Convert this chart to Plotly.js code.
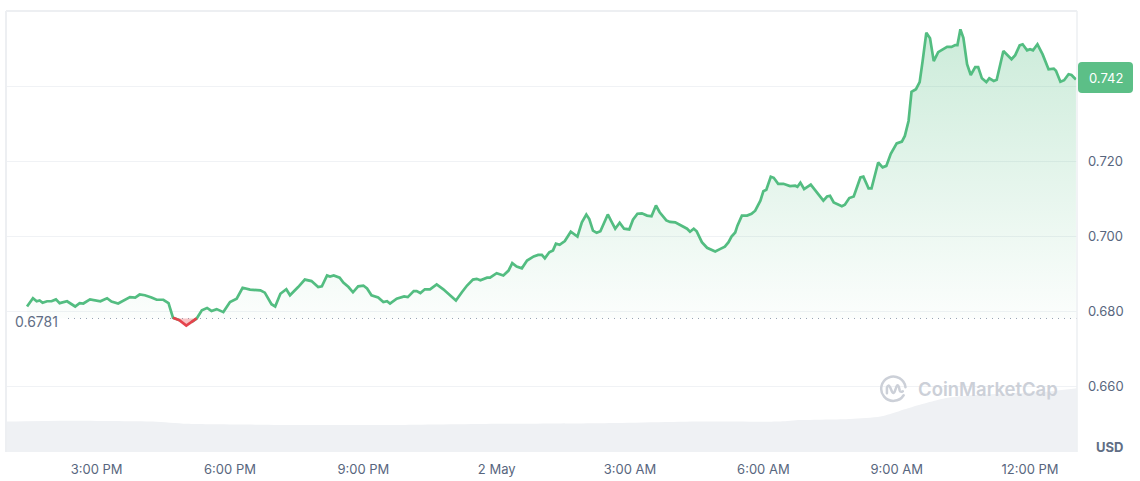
<!DOCTYPE html>
<html>
<head>
<meta charset="utf-8">
<script src="https://cdn.plot.ly/plotly-3.0.1.min.js"></script>
<style>
  html, body { margin: 0; padding: 0; background: #ffffff; }
  #chart { width: 1140px; height: 481px; }
</style>
</head>
<body>
<div id="chart"></div>
<script>
// ---------------- DATA ----------------
// Opening price of the 24h window (reference line)
const openPrice = 0.6781;
const lastPrice = 0.742;

// Sample times, in minutes since 2024-05-01 00:00
const priceMinutes = [
  806, 814, 819, 823, 827, 833, 839, 845, 850, 860,
  871, 877, 882, 891, 905, 914, 920, 929, 945, 952,
  958, 965, 974, 981, 990, 997, 1003, 1012, 1021, 1028,
  1035, 1042, 1049, 1055, 1062, 1071, 1080, 1089, 1097, 1107,
  1121, 1127, 1136, 1141, 1148, 1156, 1161, 1172, 1181, 1190,
  1199, 1204, 1211, 1215, 1220, 1228, 1233, 1240, 1246, 1253,
  1260, 1265, 1271, 1280, 1287, 1292, 1296, 1305, 1315, 1320,
  1328, 1332, 1337, 1343, 1350, 1359, 1368, 1377, 1385, 1393,
  1400, 1408, 1413, 1418, 1427, 1431, 1440, 1449, 1456, 1461,
  1467, 1474, 1481, 1490, 1496, 1501, 1505, 1511, 1516, 1520,
  1525, 1532, 1540, 1549, 1555, 1561, 1565, 1570, 1575, 1580,
  1585, 1590, 1595, 1600, 1606, 1612, 1619, 1624, 1630, 1636,
  1643, 1649, 1655, 1660, 1669, 1674, 1681, 1690, 1697, 1701,
  1706, 1710, 1717, 1724, 1729, 1735, 1742, 1748, 1753, 1757,
  1762, 1765, 1771, 1778, 1784, 1789, 1796, 1800, 1804, 1810,
  1814, 1820, 1827, 1836, 1843, 1846, 1850, 1855, 1864, 1872,
  1881, 1886, 1890, 1895, 1906, 1910, 1916, 1922, 1925, 1931,
  1935, 1942, 1946, 1951, 1955, 1961, 1966, 1972, 1980, 1987,
  1991, 1996, 2000, 2006, 2011, 2015, 2020, 2025, 2030, 2036,
  2043, 2048, 2054, 2059, 2062, 2066, 2070, 2075, 2080, 2086,
  2090, 2095, 2101, 2105, 2111, 2115, 2124, 2135, 2140, 2146,
  2150, 2156, 2160, 2164, 2170, 2177, 2185, 2192, 2195, 2201,
  2206, 2212, 2216, 2222
];

// Price in USD
const priceValues = [
  0.6813, 0.6835, 0.6827, 0.6829, 0.6823, 0.6827, 0.6827, 0.6832, 0.6822, 0.6827,
  0.6813, 0.6822, 0.6821, 0.6832, 0.6827, 0.6835, 0.6826, 0.6821, 0.6838, 0.6837,
  0.6845, 0.6843, 0.6837, 0.6831, 0.6831, 0.6822, 0.6783, 0.6776, 0.6762, 0.6771,
  0.6781, 0.6803, 0.6809, 0.6801, 0.6806, 0.6798, 0.6825, 0.6834, 0.6863, 0.6858,
  0.6856, 0.6850, 0.6819, 0.6813, 0.6847, 0.6859, 0.6843, 0.6865, 0.6885, 0.6881,
  0.6865, 0.6867, 0.6896, 0.6893, 0.6896, 0.6890, 0.6877, 0.6865, 0.6851, 0.6867,
  0.6869, 0.6861, 0.6843, 0.6837, 0.6825, 0.6827, 0.6821, 0.6834, 0.6840, 0.6838,
  0.6854, 0.6854, 0.6849, 0.6859, 0.6859, 0.6872, 0.6859, 0.6843, 0.6829, 0.6851,
  0.6869, 0.6885, 0.6887, 0.6883, 0.6890, 0.6890, 0.6902, 0.6896, 0.6909, 0.6929,
  0.6920, 0.6915, 0.6936, 0.6947, 0.6951, 0.6951, 0.6942, 0.6958, 0.6963, 0.6981,
  0.6978, 0.6988, 0.7013, 0.7000, 0.7038, 0.7059, 0.7047, 0.7016, 0.7010, 0.7014,
  0.7038, 0.7059, 0.7040, 0.7021, 0.7037, 0.7021, 0.7019, 0.7045, 0.7061, 0.7062,
  0.7056, 0.7054, 0.7083, 0.7065, 0.7043, 0.7039, 0.7038, 0.7029, 0.7021, 0.7013,
  0.7021, 0.7014, 0.6985, 0.6970, 0.6965, 0.6960, 0.6967, 0.6973, 0.6985, 0.7000,
  0.7011, 0.7029, 0.7056, 0.7056, 0.7061, 0.7069, 0.7096, 0.7121, 0.7125, 0.7160,
  0.7157, 0.7141, 0.7141, 0.7135, 0.7136, 0.7133, 0.7144, 0.7127, 0.7139, 0.7118,
  0.7096, 0.7107, 0.7109, 0.7091, 0.7081, 0.7085, 0.7103, 0.7107, 0.7123, 0.7158,
  0.7160, 0.7129, 0.7129, 0.7171, 0.7198, 0.7185, 0.7189, 0.7221, 0.7249, 0.7254,
  0.7269, 0.7309, 0.7387, 0.7394, 0.7413, 0.7469, 0.7545, 0.7530, 0.7469, 0.7493,
  0.7501, 0.7507, 0.7507, 0.7512, 0.7512, 0.7554, 0.7531, 0.7461, 0.7432, 0.7453,
  0.7453, 0.7423, 0.7413, 0.7423, 0.7416, 0.7419, 0.7496, 0.7474, 0.7485, 0.7511,
  0.7514, 0.7498, 0.7501, 0.7498, 0.7514, 0.7487, 0.7447, 0.7449, 0.7443, 0.7414,
  0.7418, 0.7434, 0.7432, 0.7420
];

// Trading volume (billions USD, estimated) – minutes since 2024-05-01 00:00
const volumeMinutes = [778, 850, 976, 1022, 1175, 1310, 1445, 1580, 1715, 1823, 1850, 1918, 1958, 2002, 2047, 2092, 2182, 2223];
const volumeValues  = [1.05, 1.08, 1.05, 0.97, 0.93, 0.93, 0.97, 0.99, 1.05, 1.05, 1.10, 1.14, 1.22, 1.56, 1.86, 1.97, 2.08, 2.20];

// Axis ticks
const xTickTimes  = ['2024-05-01 15:00', '2024-05-01 18:00', '2024-05-01 21:00', '2024-05-02 00:00',
                     '2024-05-02 03:00', '2024-05-02 06:00', '2024-05-02 09:00', '2024-05-02 12:00'];
const xTickLabels = ['3:00 PM', '6:00 PM', '9:00 PM', '2 May', '3:00 AM', '6:00 AM', '9:00 AM', '12:00 PM'];
const yTickValues = [0.66, 0.68, 0.70, 0.72, 0.74];
const yTickLabels = ['0.660', '0.680', '0.700', '0.720', ''];

// ---------------- helpers ----------------
function pad(n) { return (n < 10 ? '0' : '') + n; }
function minToDate(m) {
  const day = 1 + Math.floor(m / 1440);
  const r = m % 1440;
  return '2024-05-0' + day + ' ' + pad(Math.floor(r / 60)) + ':' + pad(r % 60);
}
const times = priceMinutes.map(minToDate);
const volTimes = volumeMinutes.map(minToDate);

const GREEN = '#53bd81';
const RED = '#e5434c';

// split line into above / below the open price
const greenY = priceValues.map((v, i) => {
  const p = priceValues[i - 1], n = priceValues[i + 1];
  return (v >= openPrice || (p !== undefined && p >= openPrice) || (n !== undefined && n >= openPrice)) ? v : null;
});
const redY = priceValues.map((v, i) => {
  const p = priceValues[i - 1], n = priceValues[i + 1];
  return (v < openPrice || (p !== undefined && p < openPrice) || (n !== undefined && n < openPrice)) ? v : null;
});
const baseY = priceValues.map(() => openPrice);
const aboveY = priceValues.map(v => Math.max(v, openPrice));
const belowY = priceValues.map(v => Math.min(v, openPrice));

// layout geometry (pixels)
const M = { l: 6, r: 63, t: 11, b: 29 };
const W = 1140, H = 481;
const PW = W - M.l - M.r, PH = H - M.t - M.b;
const px = x => (x - M.l) / PW;
const py = y => (H - M.b - y) / PH;

const yRange = [0.6424, 0.7603];
const xRange = ['2024-05-01 12:57:36', '2024-05-02 13:03:24'];

const traces = [
  { // volume
    x: volTimes, y: volumeValues, yaxis: 'y2', type: 'scatter', mode: 'lines',
    line: { width: 0, shape: 'spline', smoothing: 0.6 }, fill: 'tozeroy', fillcolor: '#eff1f4',
    hoverinfo: 'skip', showlegend: false
  },
  { x: times, y: baseY, mode: 'lines', line: { width: 0 }, hoverinfo: 'skip', showlegend: false },
  {
    x: times, y: aboveY, mode: 'lines', line: { width: 0 }, fill: 'tonexty',
    fillgradient: {
      type: 'vertical', start: openPrice, stop: 0.756,
      colorscale: [[0, 'rgba(83,189,129,0.02)'], [1, 'rgba(83,189,129,0.30)']]
    },
    hoverinfo: 'skip', showlegend: false
  },
  { x: times, y: baseY, mode: 'lines', line: { width: 0 }, hoverinfo: 'skip', showlegend: false },
  {
    x: times, y: belowY, mode: 'lines', line: { width: 0 }, fill: 'tonexty',
    fillcolor: 'rgba(229,67,76,0.32)', hoverinfo: 'skip', showlegend: false
  },
  { x: times, y: greenY, mode: 'lines', line: { color: GREEN, width: 2.7 }, connectgaps: false, showlegend: false },
  { x: times, y: redY, mode: 'lines', line: { color: RED, width: 2.7 }, connectgaps: false, showlegend: false }
];

function roundRect(x0, y0, x1, y1, r) {
  // pixel coords -> paper path
  const P = (x, y) => px(x) + ',' + py(y);
  return 'M' + P(x0 + r, y0) + ' L' + P(x1 - r, y0) + ' Q' + P(x1, y0) + ' ' + P(x1, y0 + r) +
         ' L' + P(x1, y1 - r) + ' Q' + P(x1, y1) + ' ' + P(x1 - r, y1) +
         ' L' + P(x0 + r, y1) + ' Q' + P(x0, y1) + ' ' + P(x0, y1 - r) +
         ' L' + P(x0, y0 + r) + ' Q' + P(x0, y0) + ' ' + P(x0 + r, y0) + ' Z';
}

const logoSvg = "<svg xmlns='http://www.w3.org/2000/svg' viewBox='0 0 30 30'>" +
  "<path d='M25.5 21.5 A12.6 12.6 0 1 1 27.4 13.2' fill='none' stroke='#ccd0d8' stroke-width='2.6' stroke-linecap='round'/>" +
  "<path d='M8.2 19.5 L8.2 13.5 Q9.5 9.8 11.4 13 L13.6 18 Q15 20.5 16.3 17.5 L18 12.8 Q19.4 9.6 20.6 13 L21.4 16.4 Q22 18.6 24.6 17.4' fill='none' stroke='#ccd0d8' stroke-width='2.6' stroke-linecap='round' stroke-linejoin='round'/>" +
  "</svg>";

const layout = {
  width: W, height: H,
  margin: M,
  paper_bgcolor: '#ffffff', plot_bgcolor: '#ffffff',
  font: { family: 'Inter, "Noto Sans", sans-serif', color: '#58667e', size: 13 },
  showlegend: false,
  hovermode: false,
  xaxis: {
    type: 'date', range: xRange, tickvals: xTickTimes, ticktext: xTickLabels,
    showgrid: false, zeroline: false, showline: false, ticks: '',
    tickfont: { size: 13, color: '#58667e' }, ticklabelstandoff: 8, fixedrange: true
  },
  yaxis: {
    side: 'right', range: yRange, tickvals: yTickValues, ticktext: yTickLabels,
    showgrid: true, gridcolor: '#f0f2f5', gridwidth: 1, zeroline: false, showline: false, ticks: '',
    tickfont: { size: 13, color: '#58667e' }, ticklabelstandoff: 10, fixedrange: true
  },
  yaxis2: {
    overlaying: 'y', range: [0, 15.2], visible: false, fixedrange: true
  },
  shapes: [
    // dotted open-price line
    { type: 'line', xref: 'paper', yref: 'y', x0: px(68), x1: 1, y0: openPrice, y1: openPrice,
      line: { color: '#98a2b3', width: 1, dash: '1px,5px' }, layer: 'below' },
    // frame
    { type: 'line', xref: 'paper', yref: 'paper', x0: 0, x1: 0, y0: 0, y1: 1, line: { color: '#edeff2', width: 2 } },
    { type: 'line', xref: 'paper', yref: 'paper', x0: 0, x1: 1, y0: 1, y1: 1, line: { color: '#edeff2', width: 2 } },
    { type: 'line', xref: 'paper', yref: 'paper', x0: 1, x1: 1, y0: 0, y1: 1, line: { color: '#edeff2', width: 1.5 } },
    // last price badge
    { type: 'path', xref: 'paper', yref: 'paper', path: roundRect(1078, 62, 1133, 93, 4),
      fillcolor: '#5cbf87', line: { width: 0 }, layer: 'above' }
  ],
  images: [
    { source: 'data:image/svg+xml;utf8,' + encodeURIComponent(logoSvg),
      xref: 'paper', yref: 'paper', x: px(879), y: py(374.5), sizex: 29 / PW, sizey: 29 / PH,
      xanchor: 'left', yanchor: 'top', sizing: 'stretch', layer: 'above' }
  ],
  annotations: [
    { text: openPrice.toFixed(4), xref: 'paper', yref: 'y', x: px(13), y: openPrice, yshift: -3,
      xanchor: 'left', yanchor: 'middle', showarrow: false,
      font: { size: 14, color: '#616e85', family: 'Inter, sans-serif' } },
    { text: lastPrice.toFixed(3), xref: 'paper', yref: 'paper', x: px(1105.5), y: py(77.5),
      xanchor: 'center', yanchor: 'middle', showarrow: false,
      font: { size: 13, color: '#ffffff', family: 'Inter, sans-serif' } },
    { text: '<b>USD</b>', xref: 'paper', yref: 'paper', x: px(1110), y: py(447),
      xanchor: 'center', yanchor: 'middle', showarrow: false,
      font: { size: 13, color: '#616e85', family: 'Inter, sans-serif' } },
    { text: 'CoinMarketCap', xref: 'paper', yref: 'paper', x: px(916), y: py(389),
      xanchor: 'left', yanchor: 'middle', showarrow: false,
      font: { size: 18.5, color: '#ccd0d8', family: 'Inter, sans-serif', weight: 600 } }
  ]
};

Plotly.newPlot('chart', traces, layout, { displayModeBar: false, staticPlot: true });
</script>
</body>
</html>
